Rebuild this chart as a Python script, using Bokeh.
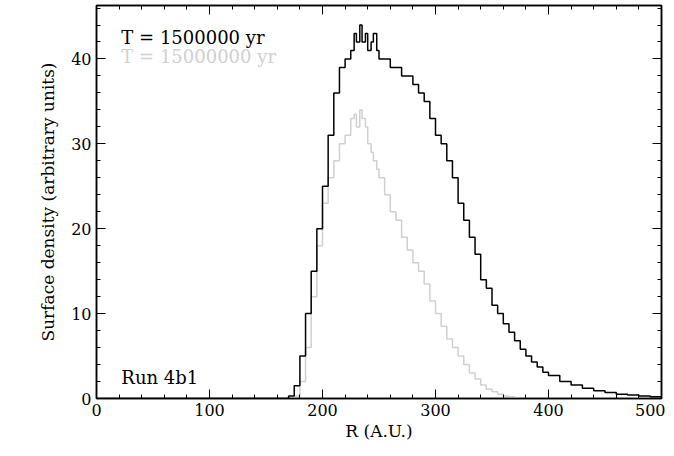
from bokeh.plotting import figure
from bokeh.models import LinearAxis, Range1d
from bokeh.core.properties import value
from bokeh.embed import file_html
from bokeh.resources import INLINE

r = [0,165,170,175,180,185,190,195,200,205,210,215,220,225,228,230,233,235,238,240,243,245,248,250,255,260,265,270,275,280,285,290,295,300,305,310,315,320,325,330,335,340,345,350,355,360,365,370,375,380,385,390,395,400,410,420,430,440,450,460,470,480,490,500]
black = [0,0,0.3,1.5,5,10,15,20,25,31,36,39,40,41,43,42,44,42,43,41,42,43,41,40,40,39,39,38,38,37,36,35,33,31,30,28,26,23,21,19,17,14,13,11,10,8.8,7.8,6.8,5.8,5.0,4.3,3.7,3.1,2.7,2.0,1.6,1.2,0.9,0.7,0.5,0.4,0.3,0.2,0.1]
gray = [0,0,0,0.3,2,6,12,18,23,26,28,30,31,33,33.5,32,34,33,32,30,29,28,27,26,24,22,21,19,17.5,16,15,13.5,11.5,10,8.5,7,6,5,4,3,2.3,1.6,1.1,0.8,0.5,0.3,0.2,0.1,0,0,0,0,0,0,0,0,0,0,0,0,0,0,0,0]

FONT = "DejaVu Serif"
p = figure(width=665, height=448, output_backend="svg", toolbar_location=None,
           x_range=Range1d(0, 500), y_range=Range1d(0, 46.3),
           min_border_left=96, min_border_right=4, min_border_top=5, min_border_bottom=50)
p.grid.visible = False
p.outline_line_color = "black"
p.outline_line_width = 1.5
p.step(r, gray, mode="after", color="#d0d0d0", line_width=1.5)
p.step(r, black, mode="after", color="black", line_width=1.5)

for ax in p.axis:
    ax.major_tick_in = 9; ax.major_tick_out = 0
    ax.minor_tick_in = 4; ax.minor_tick_out = 0
    ax.axis_line_width = 1.5
    ax.major_label_text_font = FONT
    ax.major_label_text_font_size = "16px"
    ax.major_label_text_color = "black"
    ax.axis_label_text_font = FONT
    ax.axis_label_text_font_size = "17px"
    ax.axis_label_text_color = "black"
    ax.axis_label_text_font_style = "normal"
p.xaxis.axis_label = "R (A.U.)"
p.yaxis.axis_label = "Surface density (arbitrary units)"
p.xaxis.ticker.desired_num_ticks = 6
p.yaxis.ticker.desired_num_ticks = 5
p.xaxis.axis_label_standoff = 2
p.yaxis.axis_label_standoff = 10

for loc in ("above", "right"):
    a = LinearAxis(major_label_text_font_size="0px", major_tick_in=9, major_tick_out=0,
                   minor_tick_in=4, minor_tick_out=0, axis_line_width=1.5)
    a.ticker.desired_num_ticks = 6 if loc == "above" else 5
    p.add_layout(a, loc)

p.text(x=[22], y=[42.5], text=["T = 1500000 yr"], text_color="black",
       text_font=value(FONT), text_font_size="18px", text_baseline="middle")
p.text(x=[22], y=[40.3], text=["T = 15000000 yr"], text_color="#d0d0d0",
       text_font=value(FONT), text_font_size="18px", text_baseline="middle")
p.text(x=[22], y=[2.5], text=["Run 4b1"], text_color="black",
       text_font=value(FONT), text_font_size="18px", text_baseline="middle")

open("out.html", "w").write(file_html(p, INLINE))
